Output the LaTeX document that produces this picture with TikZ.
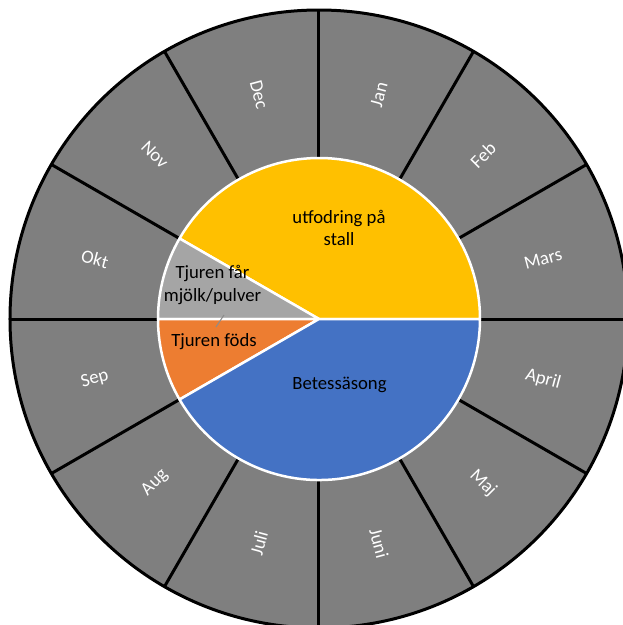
\documentclass[tikz,border=0pt]{standalone}
\usepackage{fontspec}
\setmainfont{Carlito}
\definecolor{ringgray}{HTML}{7F7F7F}
\definecolor{pieyellow}{HTML}{FFC000}
\definecolor{piegray}{HTML}{A5A5A5}
\definecolor{pieorange}{HTML}{ED7D31}
\definecolor{pieblue}{HTML}{4472C4}
\begin{document}
\begin{tikzpicture}[x=1pt,y=1pt,
  monthlbl/.style={text=white,font=\fontsize{18.7}{22.4}\selectfont,inner sep=0pt},
  pielbl/.style={text=black,font=\fontsize{18.7}{22.4}\selectfont,align=center,inner sep=0pt},
  spoke/.style={line width=3pt,black},
  leader/.style={color=piegray!85!black,line width=1pt},
  sector/.style={draw=white,line width=2.5pt,line join=round}]
\useasboundingbox (-319,-306) rectangle (304,319);
% outer ring
\fill[ringgray] (0,0) circle (309);
\foreach \a in {0,30,...,330}
  \draw[spoke] (\a:150) -- (\a:309);
\draw[line width=3pt] (0,0) circle (309);
% pie
\coordinate (c) at (0,0);
\filldraw[sector,fill=pieyellow] (c) -- (0:161) arc[start angle=0,end angle=150,radius=161] -- cycle;
\filldraw[sector,fill=piegray] (c) -- (150:161) arc[start angle=150,end angle=180,radius=161] -- cycle;
\filldraw[sector,fill=pieorange] (c) -- (180:161) arc[start angle=180,end angle=210,radius=161] -- cycle;
\filldraw[sector,fill=pieblue] (c) -- (210:161) arc[start angle=210,end angle=360,radius=161] -- cycle;
% months
\foreach \m/\a/\r [count=\i] in {Jan/75/75,Feb/45/45,Mars/15/15,April/-15/-15,Maj/-45/-45,Juni/-75/-75,Juli/-105/75,Aug/-135/45,Sep/-165/15,Okt/165/-15,Nov/135/-45,Dec/105/-75}
  \node[monthlbl,rotate=\r] (m\i) at (\a:232) {\m};
% pie labels
\node[pielbl] (feed) at (20,91) {utfodring på\\stall};
\node[pielbl] (graze) at (20.5,-66) {Betessäsong};
\node[pielbl] (milk) at (-106.5,34) {Tjuren får\\mjölk/pulver};
\node[pielbl] (born) at (-105,-23) {Tjuren föds};
\coordinate (leadfoot) at (-103,-8);
\coordinate (leadtip) at (-95,4);
\draw[leader] (leadfoot) -- (leadtip);
\end{tikzpicture}
\end{document}
